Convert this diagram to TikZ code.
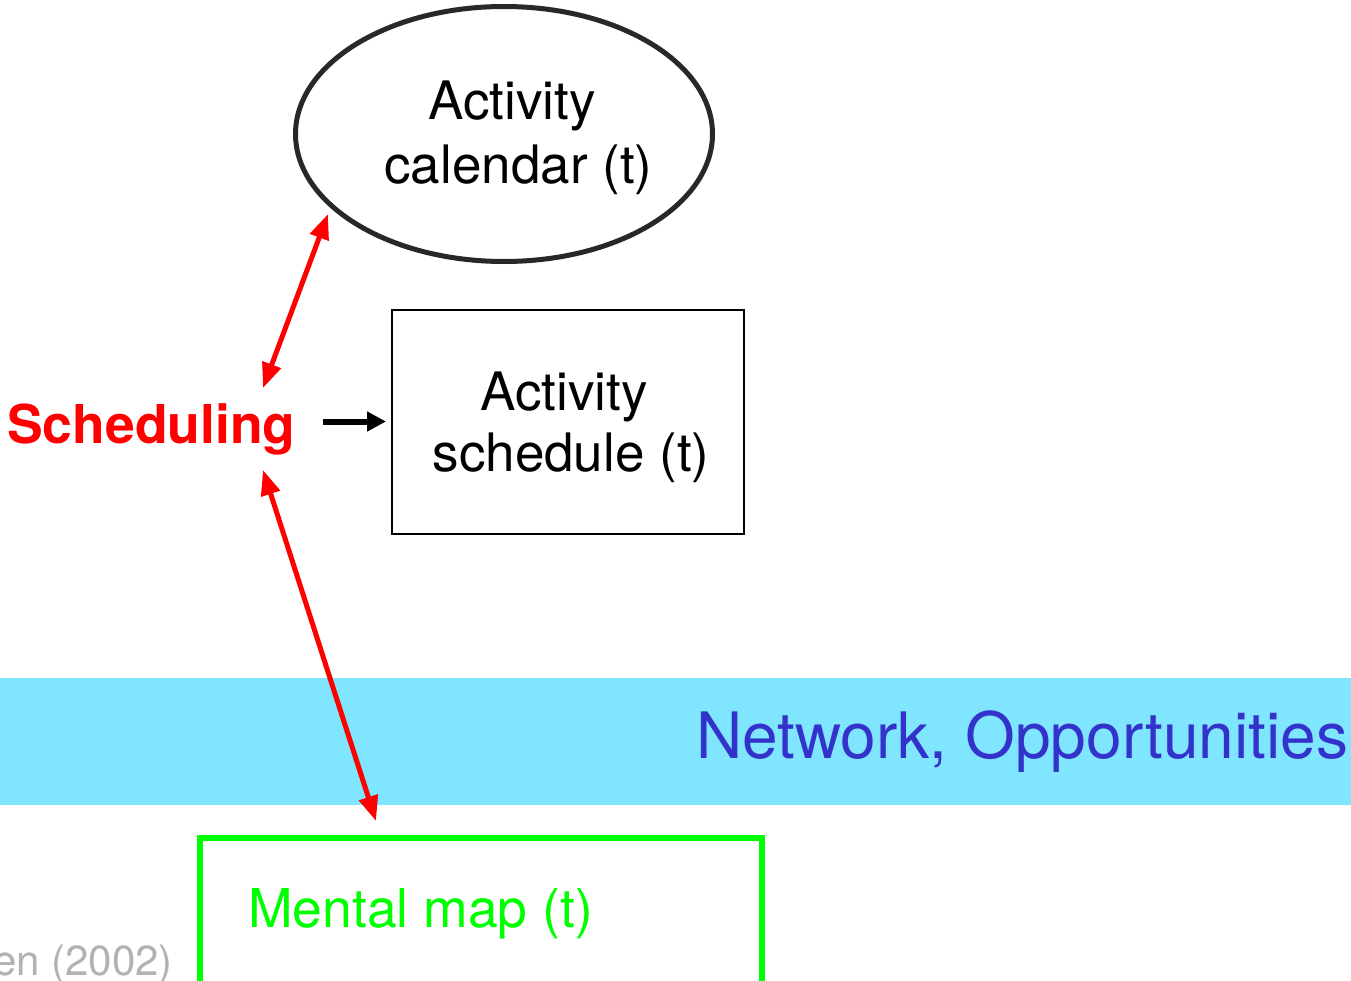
\documentclass[tikz,border=0pt]{standalone}
\usepackage{fontspec}
\setmainfont{TeX Gyre Heros}
\usetikzlibrary{arrows.meta,shapes.geometric}
\definecolor{bandcol}{RGB}{128,229,255}
\definecolor{netblue}{RGB}{51,51,204}
\definecolor{mapgreen}{RGB}{0,255,0}
\definecolor{refgray}{RGB}{178,178,178}
\definecolor{ellcol}{RGB}{40,40,40}
\tikzset{
  txt/.style={inner sep=0pt, anchor=base},
  big/.style={font=\fontsize{53}{63}\selectfont},
  redarrow/.style={draw=red, line width=5pt, {Triangle[length=25pt,width=19pt]}-{Triangle[length=25pt,width=19pt]}},
  blackarrow/.style={draw=black, line width=6pt, -{Triangle[length=19pt,width=19pt]}},
}
\begin{document}
\begin{tikzpicture}[x=1pt,y=-1pt]
\clip (0,0) rectangle (1351,980);
\fill[white] (0,0) rectangle (1351,980);
% band
\fill[bandcol] (0,678) rectangle (1351,805);
\node[txt, anchor=base west, text=netblue, font=\fontsize{64}{76}\selectfont] (net) at (696,758) {Network, Opportunities};
% ellipse
\node[ellipse, draw=ellcol, line width=5pt, minimum width=417pt, minimum height=255pt, inner sep=0pt] (cal) at (504,134) {};
\node[txt, big] (cal1) at (512,119) {Activity};
\node[txt, big] (cal2) at (518.5,183) {calendar (t)};
% schedule box
\node[draw=black, line width=2pt, minimum width=352pt, minimum height=224pt, inner sep=0pt] (sch) at (568,422) {};
\node[txt, big] (sch1) at (564,410) {Activity};
\node[txt, big] (sch2) at (571,471) {schedule (t)};
% scheduling
\node[txt, anchor=base west, text=red, font=\fontsize{53.5}{64}\selectfont\bfseries] (sg) at (7,443) {Scheduling};
% mental map
\node[draw=mapgreen, line width=6pt, minimum width=562pt, minimum height=200pt, inner sep=0pt, outer sep=0pt, anchor=north west] (map) at (199.5,837.5) {};
\node[txt, anchor=base west, text=mapgreen, font=\fontsize{53.5}{64}\selectfont] (map1) at (248,927) {Mental map (t)};
% reference
\node[txt, anchor=base east, text=refgray, font=\fontsize{42}{50}\selectfont] (ref) at (173,975) {en (2002)};
% arrows
\coordinate (a1s) at (263,388);
\coordinate (a1e) at (328,214);
\coordinate (a2s) at (263,470);
\coordinate (a2e) at (376,821);
\coordinate (a3s) at (323,421.5);
\coordinate (a3e) at (386,421.5);
\draw[redarrow] (a1s) -- (a1e);
\draw[redarrow] (a2s) -- (a2e);
\draw[blackarrow] (a3s) -- (a3e);
\end{tikzpicture}
\end{document}
